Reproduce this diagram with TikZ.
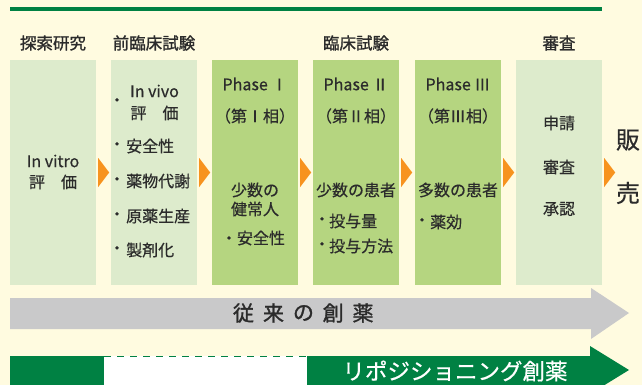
\documentclass[tikz,border=0pt]{standalone}
\usepackage{fontspec}
\setmainfont{Noto Sans CJK JP}
\newfontfamily\bodyf{Noto Sans CJK JP}[FakeBold=0.5]
\newfontfamily\hdrf{Noto Sans CJK JP}[FakeBold=1.3]
\usetikzlibrary{calc}
\definecolor{bgc}{HTML}{FFFBE0}
\definecolor{lgreen}{HTML}{DDEBCC}
\definecolor{mgreen}{HTML}{B5D580}
\definecolor{dgreen}{HTML}{008143}
\definecolor{grayc}{HTML}{C9C9CA}
\definecolor{orangec}{HTML}{F7931E}
\definecolor{txt}{HTML}{2B2B2B}
\tikzset{
  boxbase/.style={minimum width=86pt,minimum height=225pt,inner sep=0pt,draw=none},
  lbox/.style={boxbase,fill=lgreen},
  mbox/.style={boxbase,fill=mgreen},
  hdr/.style={inner sep=0pt,font=\hdrf\fontsize{16.5}{18}\selectfont,text=txt},
  bt/.style={inner sep=0pt,font=\bodyf\fontsize{16}{18}\selectfont,text=txt},
  btw/.style={bt,anchor=west},
  big/.style={inner sep=0pt,font=\bodyf\fontsize{24}{26}\selectfont,text=txt},
  gch/.style={inner sep=0pt,font=\hdrf\fontsize{21}{23}\selectfont,text=txt},
  tri/.style={fill=orangec},
}
\begin{document}
\begin{tikzpicture}[x=1pt,y=-1pt]
\path[use as bounding box,fill=bgc] (0,0) rectangle (642,385);
% top rule
\coordinate (tl) at (10,9);
\coordinate (tr) at (602,9);
\draw[dgreen,line width=4pt] (tl) -- (tr);
% headers
\node[hdr] (h1) at (53,43) {探索研究};
\node[hdr] (h2) at (154,43) {前臨床試験};
\node[hdr] (h3) at (356,43) {臨床試験};
\node[hdr] (h4) at (559,43) {審査};
% boxes
\node[lbox] (b1) at (53,172.5) {};
\node[lbox] (b2) at (154,172.5) {};
\node[mbox] (b3) at (255,172.5) {};
\node[mbox] (b4) at (356,172.5) {};
\node[mbox] (b5) at (458,172.5) {};
\node[lbox] (b6) at (559,172.5) {};
% orange triangles
\foreach \b in {b1,b2,b3,b4,b5,b6}{
  \fill[tri] ($(\b.east)+(2,-14.5)$) -- ($(\b.east)+(13,0)$) -- ($(\b.east)+(2,14.5)$) -- cycle;
}
% box 1
\node[bt] (t11) at (53,161) {In vitro};
\node[bt] (t12) at (53,182) {評\hspace{16pt}価};
% box 2
\node[bt] (d21) at (117,102) {・};
\node[bt] (t21) at (154.5,91) {In vivo};
\node[bt] (t22) at (154.5,113) {評\hspace{16pt}価};
\node[bt] (d22) at (117,146) {・};
\node[btw] (t23) at (126,146) {安全性};
\node[bt] (d23) at (117,181) {・};
\node[btw] (t24) at (126,181) {薬物代謝};
\node[bt] (d24) at (117,216) {・};
\node[btw] (t25) at (126,216) {原薬生産};
\node[bt] (d25) at (117,250) {・};
\node[btw] (t26) at (126,250) {製剤化};
% box 3
\node[bt] (t31) at (255,84) {Phase Ⅰ};
\node[bt] (t32) at (255,116) {（第Ⅰ相）};
\node[bt] (t33) at (255,190) {少数の};
\node[bt] (t34) at (255,209) {健常人};
\node[bt] (t35) at (253,238) {・安全性};
% box 4
\node[bt] (t41) at (356,84) {Phase Ⅱ};
\node[bt] (t42) at (356,116) {（第Ⅱ相）};
\node[bt] (t43) at (356,190) {少数の患者};
\node[bt] (d41) at (322,221) {・};
\node[btw] (t44) at (329,221) {投与量};
\node[bt] (d42) at (322,246) {・};
\node[btw] (t45) at (329,246) {投与方法};
% box 5
\node[bt] (t51) at (458,84) {Phase Ⅲ};
\node[bt] (t52) at (458,116) {（第Ⅲ相）};
\node[bt] (t53) at (458,190) {多数の患者};
\node[bt] (d51) at (422,222) {・};
\node[btw] (t54) at (430,222) {薬効};
% box 6
\node[bt] (t61) at (559,123) {申請};
\node[bt] (t62) at (559,167) {審査};
\node[bt] (t63) at (559,209) {承認};
% sale
\node[big] (s1) at (628,140) {販};
\node[big] (s2) at (628,193) {売};
% gray arrow
\fill[grayc] (10,298) -- (591,298) -- (591,288) -- (629,313) -- (591,339) -- (591,329) -- (10,329) -- cycle;
\node[gch] (g1) at (243.5,313) {従};
\node[gch] (g2) at (273.5,313) {来};
\node[gch] (g3) at (303.5,313) {の};
\node[gch] (g4) at (333.2,313) {創};
\node[gch] (g5) at (363,313) {薬};
% green bar
\fill[dgreen] (10,356) rectangle (104,392);
\fill[white] (104,356) rectangle (307,392);
\coordinate (da) at (104,356.6);
\coordinate (db) at (307,356.6);
\draw[dgreen,line width=1.3pt,dash pattern=on 7pt off 6pt] (da) -- (db);
\fill[dgreen] (307,356) -- (590,356) -- (590,346) -- (629,370) -- (590,394) -- (590,392) -- (307,392) -- cycle;
\node[inner sep=0pt,font=\bodyf\fontsize{22.5}{24}\selectfont,text=white] (r) at (455,371) {リポジショニング創薬};
\end{tikzpicture}
\end{document}
